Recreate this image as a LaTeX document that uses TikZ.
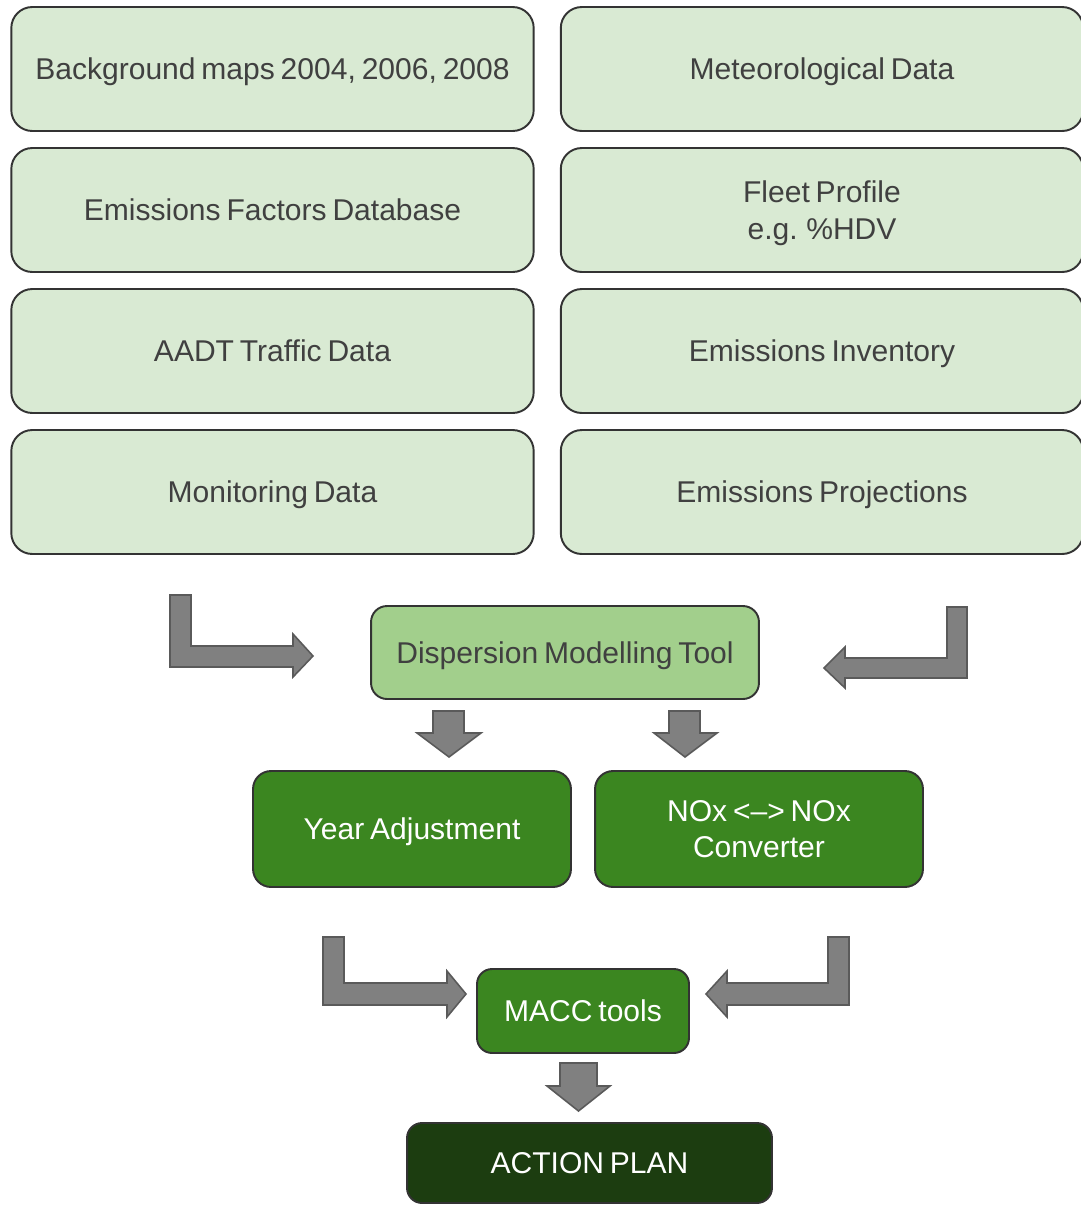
\documentclass[tikz,border=0pt]{standalone}
\usepackage{fontspec}
\setmainfont[WordSpace=0.7]{Liberation Sans}
\begin{document}
\begin{tikzpicture}[x=0.02cm,y=-0.02cm,
  box/.style={draw=black!80, line width=1.1pt, rounded corners=0.42cm, align=center,
    inner sep=0pt, font=\fontsize{17.1pt}{21pt}\selectfont, text depth=0pt},
  oneline/.style={text height=12.3pt},
  inbox/.style={box, fill=inputgreen, text=black!75, minimum width=10.45cm, minimum height=2.48cm},
  toolbox/.style={box, fill=toolgreen, text=black!75, rounded corners=0.32cm},
  stepbox/.style={box, fill=stepgreen, text=white, rounded corners=0.36cm},
  planbox/.style={box, fill=plangreen, text=white, rounded corners=0.3cm},
  blockarrow/.style={fill=arrowgray, draw=arrowedge, line width=0.9pt, line join=miter}
]
\definecolor{inputgreen}{HTML}{D9EAD3}
\definecolor{toolgreen}{HTML}{A2CF8C}
\definecolor{stepgreen}{HTML}{3B8620}
\definecolor{plangreen}{HTML}{1C3D10}
\definecolor{arrowgray}{HTML}{808080}
\definecolor{arrowedge}{HTML}{5A5A5A}

\useasboundingbox (0,0) rectangle (1081,1205);

% input data boxes
\node[inbox, oneline] (bg)    at (272.5,69)  {Background maps 2004, 2006, 2008};
\node[inbox, oneline] (met)   at (822,69)    {Meteorological Data};
\node[inbox, oneline] (ef)    at (272.5,210) {Emissions Factors Database};
\node[inbox]          (fleet) at (822,210)   {Fleet Profile\\e.g. \%HDV};
\node[inbox, oneline] (aadt)  at (272.5,351) {AADT Traffic Data};
\node[inbox, oneline] (inv)   at (822,351)   {Emissions Inventory};
\node[inbox, oneline] (mon)   at (272.5,492) {Monitoring Data};
\node[inbox, oneline] (proj)  at (822,492)   {Emissions Projections};

% processing chain
\node[toolbox, oneline, minimum width=7.76cm, minimum height=1.86cm] (disp) at (565,652.5) {Dispersion Modelling Tool};
\node[stepbox, oneline, minimum width=6.36cm, minimum height=2.32cm] (year) at (412,829) {Year Adjustment};
\node[stepbox, minimum width=6.56cm, minimum height=2.32cm] (conv) at (759,829) {NOx <--> NOx\\Converter};
\node[stepbox, oneline, minimum width=4.24cm, minimum height=1.68cm, rounded corners=0.3cm] (macc) at (583,1011) {MACC tools};
\node[planbox, oneline, minimum width=7.3cm, minimum height=1.6cm] (plan) at (589.5,1163) {ACTION PLAN};

% bent block arrows into the dispersion tool
\draw[blockarrow] (170,595) -- (191,595) -- (191,646) -- (293,646) -- (293,634) -- (313,656)
  -- (293,677) -- (293,667) -- (170,667) -- cycle;
\draw[blockarrow] (967,607) -- (947,607) -- (947,658) -- (845,658) -- (845,647) -- (824,668)
  -- (845,688) -- (845,678) -- (967,678) -- cycle;

% down arrows to the two post-processing steps
\draw[blockarrow] (433,711) -- (464,711) -- (464,733) -- (481,733) -- (449,757) -- (417,733)
  -- (433,733) -- cycle;
\draw[blockarrow] (669,711) -- (700,711) -- (700,733) -- (717,733) -- (685,757) -- (654,733)
  -- (669,733) -- cycle;

% bent block arrows into the MACC tools
\draw[blockarrow] (323,937) -- (344,937) -- (344,983) -- (447,983) -- (447,971) -- (466,994)
  -- (447,1017) -- (447,1005) -- (323,1005) -- cycle;
\draw[blockarrow] (849,937) -- (828,937) -- (828,983) -- (727,983) -- (727,971) -- (706,994)
  -- (727,1017) -- (727,1005) -- (849,1005) -- cycle;

% down arrow to the action plan
\draw[blockarrow] (560,1063) -- (597,1063) -- (597,1086) -- (610,1086) -- (578.5,1111)
  -- (547,1086) -- (560,1086) -- cycle;
\end{tikzpicture}
\end{document}
